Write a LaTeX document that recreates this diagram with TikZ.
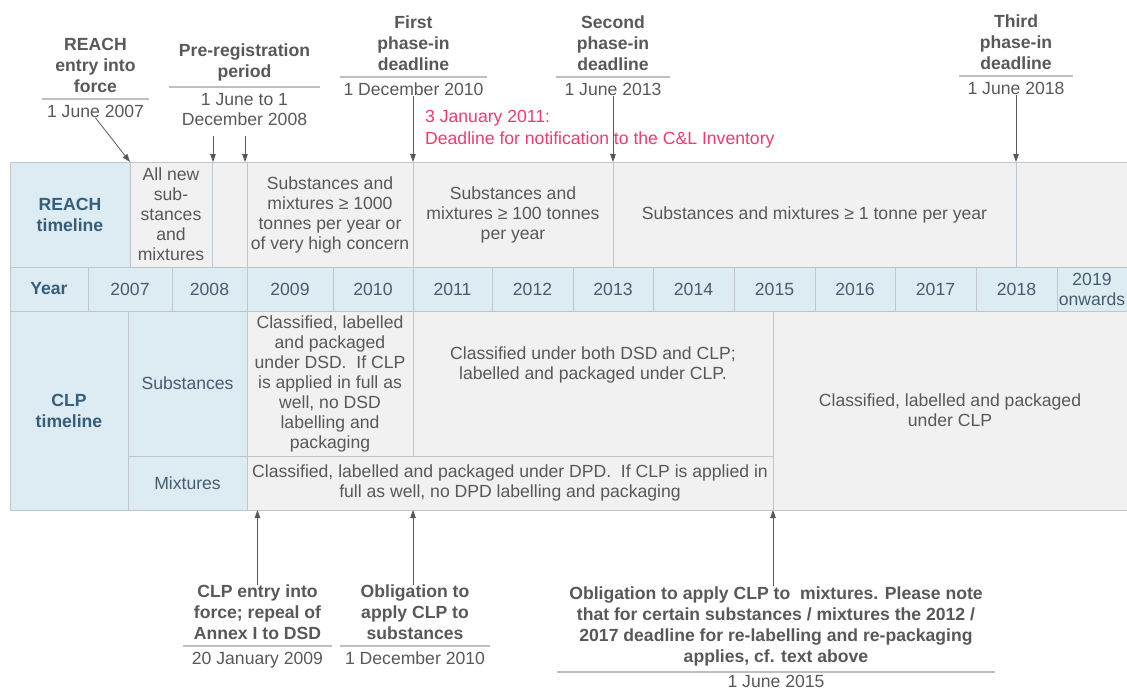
\documentclass[tikz,border=0pt]{standalone}
\usepackage{fontspec}
\setmainfont{Liberation Sans}
\usetikzlibrary{arrows.meta, positioning, calc}
\definecolor{lblblue}{RGB}{221,235,242}
\definecolor{cellgray}{RGB}{241,241,242}
\definecolor{gridline}{RGB}{190,198,206}
\definecolor{txtgray}{RGB}{88,88,88}
\definecolor{headblue}{RGB}{52,94,122}
\definecolor{yearblue}{RGB}{72,92,110}
\definecolor{notered}{RGB}{240,58,108}
\newcommand{\tlfont}{\fontsize{17.6}{20}\selectfont}
\newcommand{\tlbold}{\fontsize{17.6}{21}\selectfont\bfseries}
% one table cell: [style] name x1 y1 x2 y2 text
\newcommand{\tlcell}[7][]{%
  \node[cell, #1, minimum width={#5pt-#3pt}, minimum height={#6pt-#4pt},
        anchor=north west] (#2) at (#3,#4) {#7};}
\tikzset{
    cell/.style={draw=gridline, line width=0.7pt, fill=cellgray, inner sep=0pt,
                 outer sep=0pt, align=center, text=txtgray, font=\tlfont},
    bluecell/.style={cell, fill=lblblue, text=yearblue},
    head/.style={font=\tlbold, text=headblue},
    milestone/.style={align=center, text=txtgray, font=\tlbold, inner sep=0pt},
    datelabel/.style={align=center, text=txtgray, font=\tlfont, inner sep=0pt},
    rule/.style={draw=gray!50, line width=1.2pt},
    pointer/.style={draw=txtgray, line width=0.8pt, -{Triangle[length=8pt,width=5.5pt]}},
}
\begin{document}
\begin{tikzpicture}[x=1pt, y=-1pt, node distance=2pt]
    \useasboundingbox (0,0) rectangle (1127,691);

    % REACH row
    \tlcell[bluecell, head]{reach-lbl}{10}{162}{130}{267}{REACH\\timeline}
    \tlcell{allnew}{130}{162}{212}{267}{All new\\sub-\\stances\\and\\mixtures}
    \tlcell{prereg-gap}{212}{162}{247}{267}{}
    \tlcell{sub1000}{247}{162}{413}{267}{Substances and\\mixtures ≥ 1000\\tonnes per year or\\of very high concern}
    \tlcell{sub100}{413}{162}{613}{267}{Substances and\\mixtures ≥ 100 tonnes\\per year}
    \tlcell{sub1}{613}{162}{1016}{267}{Substances and mixtures ≥ 1 tonne per year}
    \tlcell{reach-end}{1016}{162}{1127}{267}{}

    % year row
    \tlcell[bluecell, head]{year-lbl}{10}{267}{88}{311}{Year}
    \foreach \yr/\xa/\xb/\txt in {2007/88/172/2007, 2008/172/247/2008, 2009/247/333/2009,
        2010/333/413/2010, 2011/413/492/2011, 2012/492/573/2012, 2013/573/653/2013,
        2014/653/734/2014, 2015/734/815/2015, 2016/815/895/2016, 2017/895/976/2017,
        2018/976/1057/2018, 2019/1057/1127/{2019\\onwards}}
      \tlcell[bluecell]{y\yr}{\xa}{267}{\xb}{311}{\txt};

    % CLP rows
    \tlcell[bluecell, head]{clp-lbl}{10}{311}{128}{510}{CLP\\timeline}
    \tlcell[bluecell]{subst-lbl}{128}{311}{247}{456}{Substances}
    \tlcell[bluecell]{mix-lbl}{128}{456}{247}{510}{Mixtures}
    \tlcell{subdsd}{247}{311}{413}{456}{Classified, labelled\\and packaged\\under DSD.\ \ If CLP\\is applied in full as\\well, no DSD\\labelling and\\packaging}
    \tlcell{subboth}{413}{311}{773}{456}{}
    \node[datelabel] (subboth-txt) at ($(subboth.center)+(0,-19)$)
      {Classified under both DSD and CLP;\\labelled and packaged under CLP.};
    \tlcell{mixdpd}{247}{456}{773}{510}{Classified, labelled and packaged under DPD.\ \ If CLP is applied in\\full as well, no DPD labelling and packaging}
    \tlcell{clponly}{773}{311}{1127}{510}{Classified, labelled and packaged\\under CLP}

    % REACH milestones
    \coordinate (reach-rule) at (95.5,99);
    \node[milestone, above=6pt of reach-rule] (reach-title) {REACH\\entry into\\force};
    \node[datelabel, below=6pt of reach-rule] (reach-date) {1 June 2007};
    \draw[rule] ($(reach-rule)+(-53.5,0)$) -- ($(reach-rule)+(53.5,0)$);

    \coordinate (prereg-rule) at (244.5,87);
    \node[milestone, above=6pt of prereg-rule] (prereg-title) {Pre-registration\\period};
    \node[datelabel, below=6pt of prereg-rule] (prereg-date) {1 June to 1\\December 2008};
    \draw[rule] ($(prereg-rule)+(-75.5,0)$) -- ($(prereg-rule)+(75.5,0)$);

    \coordinate (first-rule) at (413.5,77);
    \node[milestone, above=6pt of first-rule] (first-title) {First\\phase-in\\deadline};
    \node[datelabel, below=6pt of first-rule] (first-date) {1 December 2010};
    \draw[rule] ($(first-rule)+(-73.5,0)$) -- ($(first-rule)+(73.5,0)$);

    \coordinate (second-rule) at (613,77);
    \node[milestone, above=6pt of second-rule] (second-title) {Second\\phase-in\\deadline};
    \node[datelabel, below=6pt of second-rule] (second-date) {1 June 2013};
    \draw[rule] ($(second-rule)+(-57,0)$) -- ($(second-rule)+(57,0)$);

    \coordinate (third-rule) at (1016,76);
    \node[milestone, above=6pt of third-rule] (third-title) {Third\\phase-in\\deadline};
    \node[datelabel, below=6pt of third-rule] (third-date) {1 June 2018};
    \draw[rule] ($(third-rule)+(-57,0)$) -- ($(third-rule)+(57,0)$);

    \node[datelabel, text=notered, align=left, anchor=north west, font=\fontsize{17.6}{22}\selectfont]
      (cl-note) at (425,110) {3 January 2011:\\Deadline for notification to the C\&L Inventory};

    \coordinate (prereg-a) at (213,136);
    \coordinate (prereg-b) at (245,136);
    \draw[pointer] (reach-date.south) -- (allnew.north west);
    \draw[pointer] (prereg-a) -- (prereg-a |- allnew.north);
    \draw[pointer] (prereg-b) -- (prereg-b |- allnew.north);
    \draw[pointer] (first-date.south -| sub100.north west) -- (sub100.north west);
    \draw[pointer] (second-date.south) -- (sub1.north west);
    \draw[pointer] (third-date.south) -- (sub1.north east);

    % CLP milestones
    \coordinate (clpentry-rule) at (257.5,646);
    \node[milestone, above=6pt of clpentry-rule] (clpentry-title) {CLP entry into\\force; repeal of\\Annex I to DSD};
    \node[datelabel, below=6pt of clpentry-rule] (clpentry-date) {20 January 2009};
    \draw[rule] ($(clpentry-rule)+(-74.5,0)$) -- ($(clpentry-rule)+(74.5,0)$);

    \coordinate (oblsub-rule) at (415,646);
    \node[milestone, above=6pt of oblsub-rule] (oblsub-title) {Obligation to\\apply CLP to\\substances};
    \node[datelabel, below=6pt of oblsub-rule] (oblsub-date) {1 December 2010};
    \draw[rule] ($(oblsub-rule)+(-75,0)$) -- ($(oblsub-rule)+(75,0)$);

    \coordinate (oblmix-rule) at (776,672);
    \node[milestone, above=6pt of oblmix-rule] (oblmix-title) {Obligation to apply CLP to\ \ mixtures. Please note\\that for certain substances / mixtures the 2012 /\\2017 deadline for re-labelling and re-packaging\\applies, cf. text above};
    \node[datelabel, below=3pt of oblmix-rule] (oblmix-date) {1 June 2015};
    \draw[rule] ($(oblmix-rule)+(-219,0)$) -- ($(oblmix-rule)+(219,0)$);

    \draw[pointer] (clpentry-title.north) -- (clpentry-title.north |- mixdpd.south);
    \draw[pointer] (oblsub-title.north -| sub100.north west) -- (sub100.north west |- mixdpd.south);
    \draw[pointer] (oblmix-title.north -| mixdpd.south east) -- (mixdpd.south east);
\end{tikzpicture}
\end{document}
